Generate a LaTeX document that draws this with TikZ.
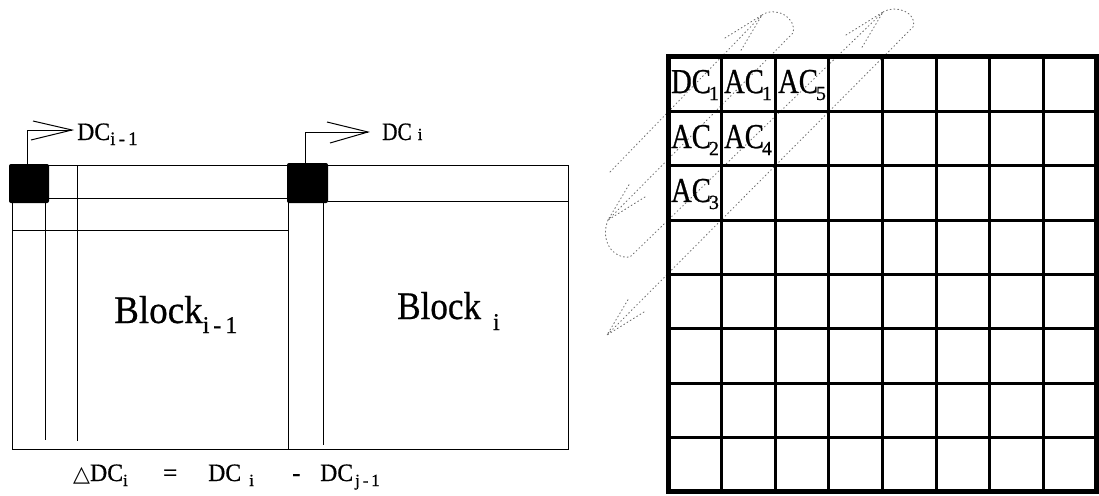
\documentclass[tikz,border=0pt]{standalone}
\usepackage{fontspec}
\setmainfont{Liberation Serif}
\newfontfamily\labfont{Liberation Serif}[FakeBold=0.7]
\newfontfamily\symfont{DejaVu Sans}
\usetikzlibrary{calc}
\newcommand{\cond}[2]{\scalebox{#1}[1]{#2}}
\newcommand{\subs}[2]{{\fontsize{#1}{#1}\selectfont #2}}
\begin{document}
\begin{tikzpicture}[x=1pt,y=-1pt,
  thinline/.style={line width=1pt},
  dotline/.style={line width=0.9pt, dash pattern=on 1pt off 2.8pt, black!55, line cap=round},
  gridline/.style={line width=3pt},
  outerline/.style={line width=5pt},
  lbl/.style={anchor=base west, inner sep=0pt, font=\labfont\fontsize{25}{25}\selectfont},
  blk/.style={anchor=base west, inner sep=0pt, font=\labfont\fontsize{39}{39}\selectfont},
  cell/.style={inner sep=0pt, font=\labfont\fontsize{35}{35}\selectfont},
]
\useasboundingbox (0,0) rectangle (1099,495);

% ---------------- left figure ----------------
\draw[thinline] (12,165) rectangle (288,449);
\draw[thinline] (288,165) rectangle (568,449);
\draw[thinline] (49,198) -- (288,198);
\draw[thinline] (12,230) -- (288,230);
\draw[thinline] (45,203) -- (45,440);
\draw[thinline] (77,165) -- (77,441);
\draw[thinline] (328,201) -- (568,201);
\draw[thinline] (323,203) -- (323,445);
\fill[rounded corners=2pt] (9,164) rectangle (49,203);
\fill[rounded corners=2pt] (287,163) rectangle (328,203);

% DC_{i-1} arrow
\coordinate (sqA) at (27,164);
\coordinate (tipA) at (72,130);
\draw[thinline] (sqA) |- (tipA);
\draw[thinline] ($(tipA)+(-39,-9)$) -- (tipA) -- ($(tipA)+(-41,10)$);
\node[lbl] (lblprev) at (77,140) {\cond{0.95}{DC}\raisebox{-5pt}{\subs{19}{i\,-\,1}}};

% DC_i arrow
\coordinate (sqB) at (305,164);
\coordinate (tipB) at (368,132);
\draw[thinline] (sqB) |- (tipB);
\draw[thinline] ($(tipB)+(-41,-10)$) -- (tipB) -- ($(tipB)+(-38,11)$);
\node[lbl] (lblcur) at (382,140) {\cond{0.85}{DC}\hspace{6pt}\subs{17}{i}};

% block labels
\node[blk] (blkprev) at (114,323) {\cond{0.95}{Block}\raisebox{-10pt}{\subs{24}{i\,-\,1}}};
\node[blk] (blkcur) at (397,319) {\cond{0.9}{Block}\hspace{12pt}\raisebox{-11pt}{\subs{24}{i}}};

% formula
\node[lbl] (fdelta) at (73,481) {{\symfont\fontsize{22}{22}\selectfont △}\cond{0.95}{DC}\raisebox{-5pt}{\subs{17}{i}}};
\node[lbl] (feq) at (163,481) {=};
\node[lbl] (fcur) at (208,481) {\cond{0.95}{DC}\hspace{8pt}\raisebox{-5pt}{\subs{17}{i}}};
\node[lbl] (fminus) at (292,481) {-};
\node[lbl] (fprev) at (320,481) {\cond{0.95}{DC}\hspace{2pt}\raisebox{-5pt}{\subs{17}{j\,-\,1}}};

% ---------------- zigzag dotted path ----------------
\coordinate (S) at (610,172);
\coordinate (A) at (762,15);
\coordinate (B) at (608,220);
\coordinate (C) at (883,12);
\coordinate (D) at (607,335);
\draw[dotline] (S) -- (A);
\draw[dotline] (A) .. controls (775,6) and (797,17) .. (793,33) -- (B);
\draw[dotline] (B) .. controls (600,240) and (612,259) .. (630,257) -- (C);
\draw[dotline] (C) .. controls (896,4) and (918,13) .. (913,27) -- (D);
\foreach \t in {A,C}{
  \draw[dotline] ($(\t)+(-37,23)$) -- (\t) -- ($(\t)+(-22,37)$);
}
\foreach \t in {B,D}{
  \draw[dotline] ($(\t)+(37,-23)$) -- (\t) -- ($(\t)+(22,-37)$);
}

% ---------------- 8x8 grid ----------------
\foreach \i in {1,...,7}{
  \draw[gridline] ({668+53.6*\i},57) -- ({668+53.6*\i},492);
  \draw[gridline] (668,{57+54.375*\i}) -- (1097,{57+54.375*\i});
}
\draw[outerline] (668,57) rectangle (1096.5,491.5);

\node[cell] (dc1) at (695,85) {\cond{0.82}{DC}\kern-2pt\raisebox{-7pt}{\subs{20}{1}}};
\node[cell] (ac1) at (748,85) {\cond{0.82}{AC}\kern-2pt\raisebox{-7pt}{\subs{20}{1}}};
\node[cell] (ac5) at (802,85) {\cond{0.82}{AC}\kern-2pt\raisebox{-7pt}{\subs{20}{5}}};
\node[cell] (ac2) at (695,140) {\cond{0.82}{AC}\kern-2pt\raisebox{-7pt}{\subs{20}{2}}};
\node[cell] (ac4) at (748,140) {\cond{0.82}{AC}\kern-2pt\raisebox{-7pt}{\subs{20}{4}}};
\node[cell] (ac3) at (695,194) {\cond{0.82}{AC}\kern-2pt\raisebox{-7pt}{\subs{20}{3}}};
\end{tikzpicture}
\end{document}
